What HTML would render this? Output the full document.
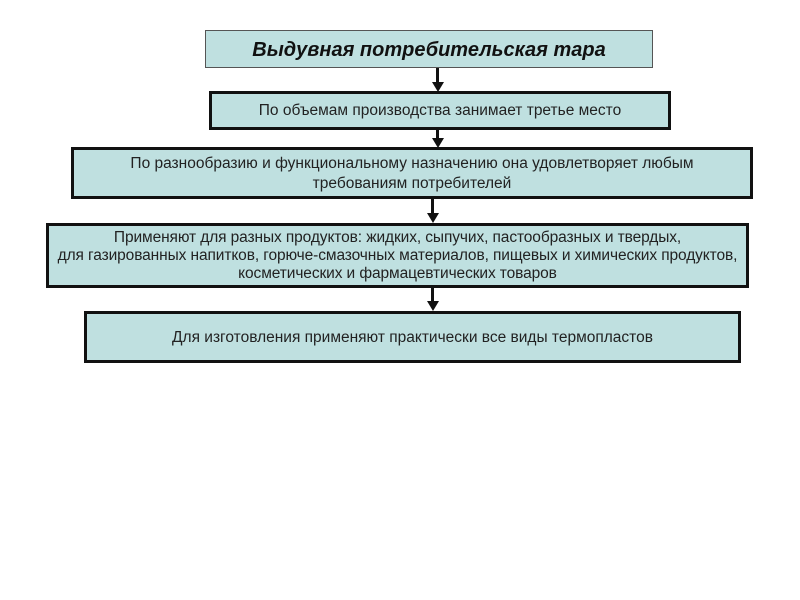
<!DOCTYPE html>
<html><head><meta charset="utf-8"><style>
body{margin:0;width:800px;height:600px;background:#fff;position:relative;font-family:"Liberation Sans","DejaVu Sans",sans-serif;overflow:hidden}
.b{position:absolute;box-sizing:border-box;background:#bfe0e0;border:3px solid #111;display:flex;align-items:center;justify-content:center;text-align:center;color:#222;font-size:15.5px;line-height:18px;white-space:nowrap;padding-top:1px}
.l{position:absolute;width:3px;background:#111}
.a{position:absolute;width:0;height:0;border-left:6px solid transparent;border-right:6px solid transparent;border-top:10px solid #111}
</style></head><body>
<div class="b" style="left:205px;top:30px;width:448px;height:38px;border:1px solid #555;font-size:20px;font-weight:bold;font-style:italic;color:#111">Выдувная потребительская тара</div>
<div class="l" style="left:436px;top:68px;height:16px"></div><div class="a" style="left:432px;top:82px"></div>
<div class="b" style="left:209px;top:91px;width:462px;height:39px">По объемам производства занимает третье место</div>
<div class="l" style="left:436px;top:130px;height:10px"></div><div class="a" style="left:432px;top:138px"></div>
<div class="b" style="left:71px;top:147px;width:682px;height:52px;line-height:20px">По разнообразию и функциональному назначению она удовлетворяет любым<br>требованиям потребителей</div>
<div class="l" style="left:431px;top:199px;height:16px"></div><div class="a" style="left:427px;top:213px"></div>
<div class="b" style="left:46px;top:223px;width:703px;height:65px;line-height:18px;letter-spacing:-0.1px">Применяют для разных продуктов: жидких, сыпучих, пастообразных и твердых,<br>для газированных напитков, горюче-смазочных материалов, пищевых и химических продуктов,<br>косметических и фармацевтических товаров</div>
<div class="l" style="left:431px;top:288px;height:15px"></div><div class="a" style="left:427px;top:301px"></div>
<div class="b" style="left:84px;top:311px;width:657px;height:52px">Для изготовления применяют практически все виды термопластов</div>
</body></html>
